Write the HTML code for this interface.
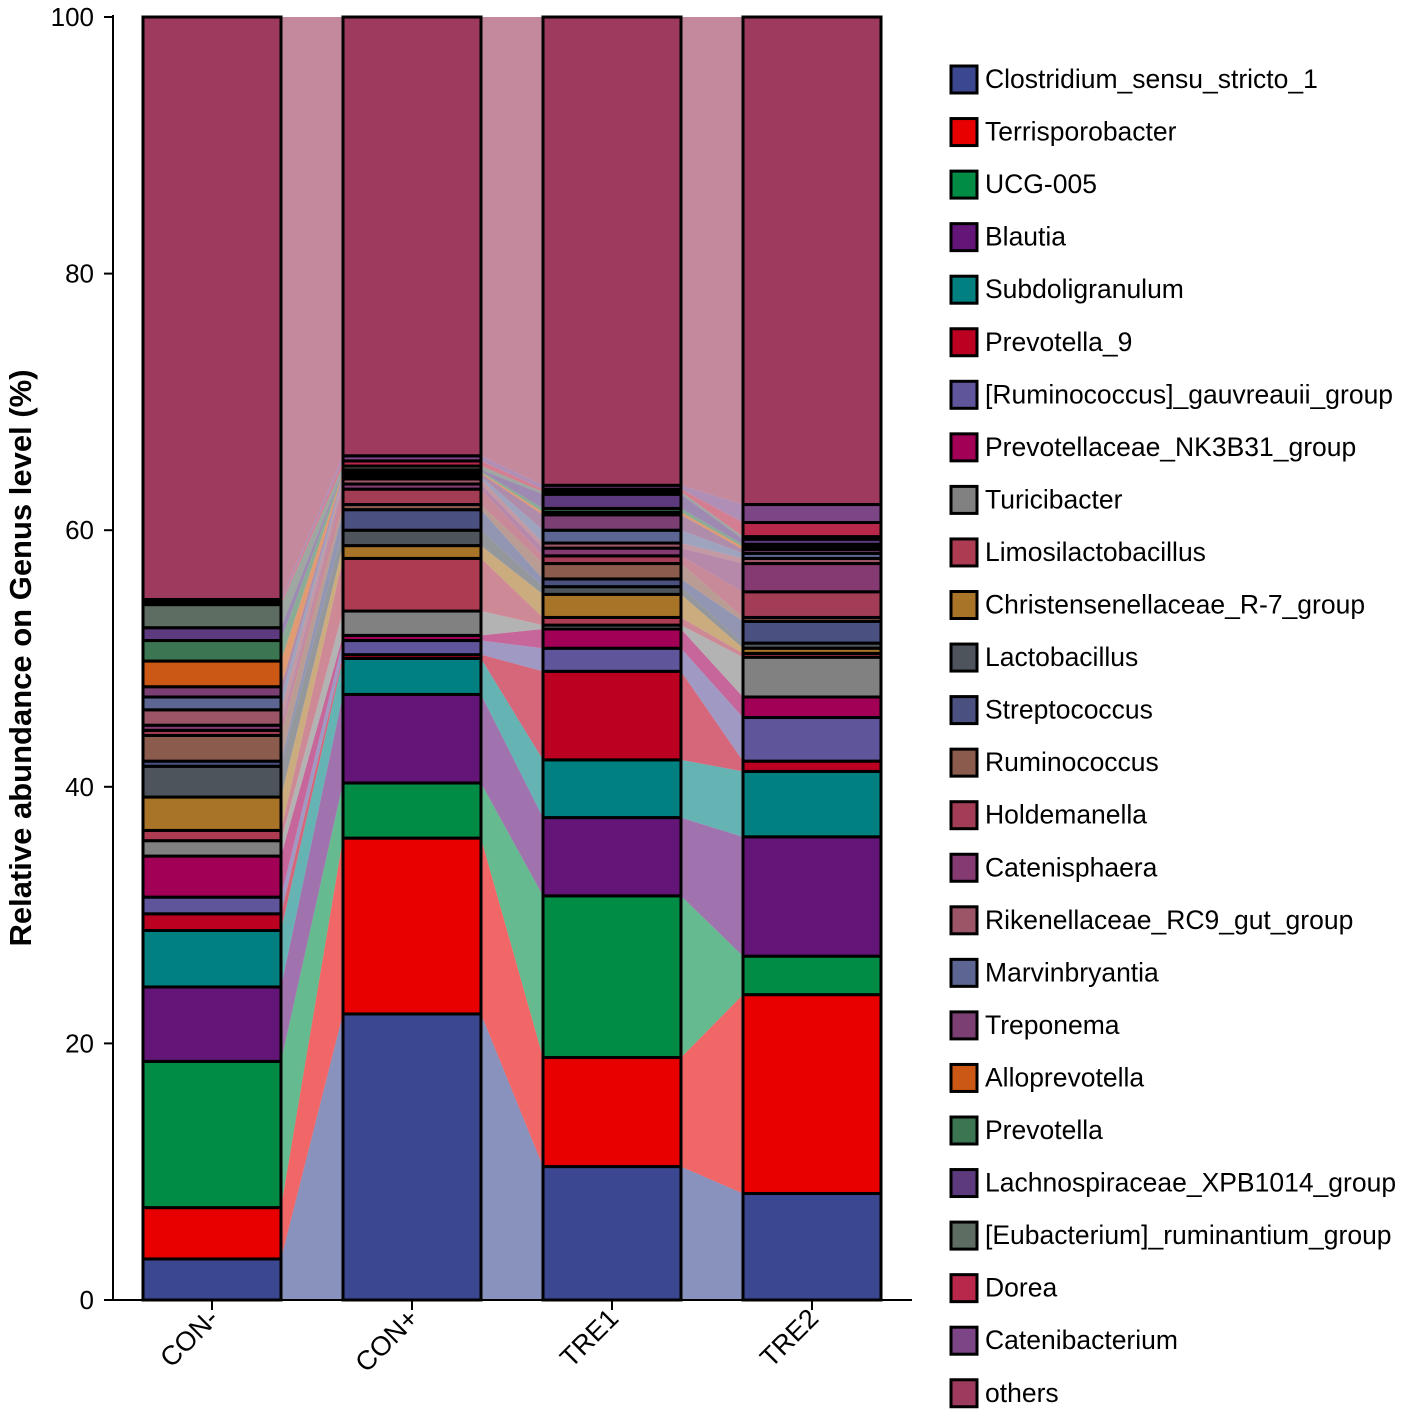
<!DOCTYPE html>
<html><head><meta charset="utf-8"><style>
body{margin:0;background:#fff;font-family:"Liberation Sans",Arial,sans-serif}
</style></head><body>
<svg id="c" width="1418" height="1415" xmlns="http://www.w3.org/2000/svg" font-family="Liberation Sans, Arial, sans-serif"></svg>
<script>
const groups=["CON-","CON+","TRE1","TRE2"];
const series=["Clostridium_sensu_stricto_1","Terrisporobacter","UCG-005","Blautia","Subdoligranulum","Prevotella_9","[Ruminococcus]_gauvreauii_group","Prevotellaceae_NK3B31_group","Turicibacter","Limosilactobacillus","Christensenellaceae_R-7_group","Lactobacillus","Streptococcus","Ruminococcus","Holdemanella","Catenisphaera","Rikenellaceae_RC9_gut_group","Marvinbryantia","Treponema","Alloprevotella","Prevotella","Lachnospiraceae_XPB1014_group","[Eubacterium]_ruminantium_group","Dorea","Catenibacterium","others"];
const colors=["#3b4891","#e80000","#008c45","#631678","#008080","#bb0021","#5f559b","#a20056","#808180","#ad3b52","#a87428","#4d545c","#4a5080","#8b5b4e","#a33c55","#853a72","#9b5566","#5d6592","#7b3f73","#cc5816","#3c7551","#5c3a7d","#5e6d62","#b8284a","#7c4586","#9e3a5e"];
// cumulative tops (%)
const topsCONm=[3.2,7.2,18.6,24.4,28.8,30.1,31.4,34.6,35.8,36.6,39.2,41.6,42.0,44.0,44.4,44.8,46.0,47.0,47.8,49.8,51.4,52.4,54.2,54.4,54.6,100];
const topsCONp=[22.3,36.0,40.3,47.2,50.0,50.3,51.4,51.8,53.7,57.8,58.8,60.0,61.6,62.0,63.2,63.6,64.0,64.2,64.4,64.5,64.6,64.7,65.0,65.4,65.8,100];
const topsTRE1=[10.4,18.9,31.5,37.6,42.1,49.0,50.8,52.3,52.6,53.2,55.0,55.6,56.2,57.4,58.0,58.6,59.0,60.0,61.2,61.4,61.7,62.8,63.0,63.2,63.5,100];
const topsTRE2=[8.3,23.8,26.8,36.1,41.2,42.0,45.4,47.0,50.1,50.4,50.8,51.2,52.9,53.2,55.2,57.4,57.8,58.2,58.5,58.7,58.9,59.3,59.5,60.6,62.0,100];
const tops=[topsCONm,topsCONp,topsTRE1,topsTRE2];
const yTicks=[0,20,40,60,80,100];
const svg=document.getElementById('c');const NS="http://www.w3.org/2000/svg";
function el(t,a,p){const e=document.createElementNS(NS,t);for(const k in a)e.setAttribute(k,a[k]);(p||svg).appendChild(e);return e;}
const y=v=>1300-v*12.83;
const bx=i=>143+i*200, bw=138;
const gF=el('g',{});
for(let g=0;g<3;g++)for(let s=0;s<series.length;s++){
 const a=tops[g],b=tops[g+1];const a0=s?a[s-1]:0,b0=s?b[s-1]:0;
 const x1=bx(g)+bw,x2=bx(g+1);
 const p=el('polygon',{points:`${x1},${y(a0)} ${x1},${y(a[s])} ${x2},${y(b[s])} ${x2},${y(b0)}`,fill:colors[s],'fill-opacity':0.6},gF);
 
}
for(let g=0;g<4;g++){const gg=el('g',{});
 for(let s=0;s<series.length;s++){const t=tops[g];const v0=s?t[s-1]:0;
  const r=el('rect',{x:bx(g),y:y(t[s]),width:bw,height:y(v0)-y(t[s]),fill:colors[s],stroke:'#000','stroke-width':3},gg);
  }
}
const ax=el('g',{});
el('line',{x1:113,y1:15,x2:113,y2:1301,stroke:'#000','stroke-width':2},ax);
el('line',{x1:112,y1:1300,x2:912,y2:1300,stroke:'#000','stroke-width':2},ax);
yTicks.forEach(v=>{el('line',{x1:104,y1:y(v),x2:113,y2:y(v),stroke:'#000','stroke-width':2},ax);
 const t=el('text',{x:94,y:y(v)+9,'text-anchor':'end','font-size':26},ax);t.textContent=v;});
groups.forEach((n,g)=>{const cx=bx(g)+bw/2;el('line',{x1:cx,y1:1300,x2:cx,y2:1310,stroke:'#000','stroke-width':2},ax);
 const t=el('text',{x:cx+8,y:1320,'text-anchor':'end','font-size':27,transform:`rotate(-45 ${cx+8} 1320)`},ax);t.textContent=n;});
const yt=el('text',{x:31,y:658,'text-anchor':'middle','font-size':31,'font-weight':'bold',transform:'rotate(-90 31 658)'});yt.textContent='Relative abundance on Genus level (%)';

const lg=el('g',{});
for(let s=0;s<series.length;s++){const yy=79+s*52.55;
 const e=el('g',{},lg);
 el('rect',{x:951,y:yy-13,width:26,height:27,fill:colors[s],stroke:'#000','stroke-width':3},e);
 const t=el('text',{x:985,y:yy+9,'font-size':26.5},e);t.textContent=series[s];}
</script>
</body></html>
